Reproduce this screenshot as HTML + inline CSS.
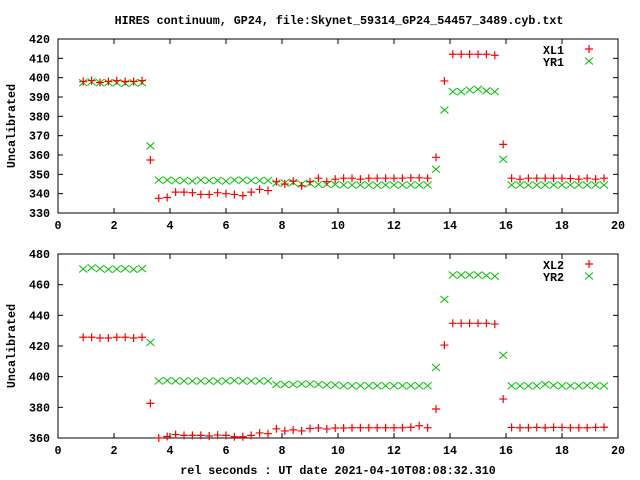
<!DOCTYPE html>
<html><head><meta charset="utf-8"><style>
html,body{margin:0;padding:0;background:#fff;}
svg{display:block;}
text{font-family:"Liberation Mono",monospace;font-weight:bold;font-size:11.7px;fill:#000;}
</style></head><body>
<svg id="chart" width="640" height="480" viewBox="0 0 640 480" xmlns="http://www.w3.org/2000/svg">
<text x="339" y="24" text-anchor="middle">HIRES continuum, GP24, file:Skynet_59314_GP24_54457_3489.cyb.txt</text>
<text x="338" y="474" text-anchor="middle">rel seconds : UT date 2021-04-10T08:08:32.310</text>
</svg>
<script>
const xTicks=[0,2,4,6,8,10,12,14,16,18,20];
const topYTicks=[330,340,350,360,370,380,390,400,410,420];
const botYTicks=[360,380,400,420,440,460,480];
const xStart=0.9, xStep=0.3;
const xl1=[398,398.5,397.5,398,398.5,398,398,398.5,357.4,
337.6,338,340.8,340.8,340.5,339.6,339.6,340.5,340,339.6,339,340.8,342.2,341.6,
346.2,345,346.5,344,346.2,348,346.2,347.5,348,348,347.5,348,348,348,348,348,348.2,348.2,348,
358.8,398.3,412.1,412.1,412.1,412.1,412.1,411.6,365.5,
348,347.5,348,348,348,348,348,347.8,347.5,348,347.5,348];
const yr1=[397.4,397.8,397.4,397.4,397.4,397,397.4,397.4,364.7,
347,347,346.8,346.8,346.5,347,346.8,346.8,346.5,347,347,346.8,346.8,346.8,
345.5,345.5,345.8,345,345.3,344.8,344.8,344.8,344.5,344.5,344.5,344.5,344.3,344.5,344.5,344.5,344.5,344.5,344.5,
352.6,383.3,392.8,392.8,393.6,394,393.2,392.8,357.8,
344.5,344.5,344.5,344.5,344.5,344.5,344.5,344.5,344.5,344.5,344.5,344.5];
const xl2=[425.7,425.7,425.2,425.2,425.7,425.7,425.2,425.7,382.6,
360,361,362.3,361.7,361.7,361.7,361.3,361.9,361.7,360.8,360.8,361.7,363.3,362.8,
366,364.6,365.3,364.6,366.2,366.5,365.9,366.5,366.5,366.7,366.7,366.7,366.7,366.7,366.7,366.7,367,368,366.7,
378.9,420.6,434.8,434.8,434.8,434.8,434.8,434.3,385.4,
366.9,366.7,366.7,366.9,366.7,366.9,366.9,366.7,366.7,366.7,366.9,367];
const yr2=[470.2,471,470.5,470,470.2,470.5,470,470.5,422.4,
397.2,397.5,397.2,397.2,397.2,397.2,397.2,397,397.2,397.5,397.2,397.2,397.2,397.2,
394.9,394.9,394.9,395.2,395.2,394.9,394.6,394.6,394.1,394.1,394.1,394.1,394.1,394.1,394.1,394.1,394.1,394.1,394.1,
406,450.4,466.3,466.3,466.3,466.3,466,465.5,414,
394,394,394,394,395,394.3,394,394,394,394.3,394,394];

const svg=document.getElementById('chart');
const NS='http://www.w3.org/2000/svg';
function mk(tag,attrs,parent){const e=document.createElementNS(NS,tag);for(const k in attrs)e.setAttribute(k,attrs[k]);(parent||svg).appendChild(e);return e;}

function panel(name,top,bottom,yTicks,s1,s2,n1,n2){
  const L=58,R=618,ymin=yTicks[0],ymax=yTicks[yTicks.length-1];
  const X=v=>L+(v-xTicks[0])/(xTicks[xTicks.length-1]-xTicks[0])*(R-L);
  const Y=v=>bottom-(v-ymin)/(ymax-ymin)*(bottom-top);
  const g=mk('g',{});
  
  
  const fr=mk('rect',{x:L,y:top,width:R-L,height:bottom-top,fill:'none',stroke:'#000','stroke-width':1},g);
  
  
  xTicks.forEach(t=>{
    const x=X(t);
    mk('line',{x1:x,x2:x,y1:bottom,y2:bottom-5,stroke:'#000'},g);
    mk('line',{x1:x,x2:x,y1:top,y2:top+5,stroke:'#000'},g);
    const tx=mk('text',{x:x,y:bottom+16,'text-anchor':'middle'},g);
    tx.textContent=t;
    
    
  });
  yTicks.forEach(t=>{
    const y=Y(t);
    mk('line',{x1:L,x2:L+5,y1:y,y2:y,stroke:'#000'},g);
    mk('line',{x1:R,x2:R-5,y1:y,y2:y,stroke:'#000'},g);
    const tx=mk('text',{x:L-8,y:y+4,'text-anchor':'end'},g);
    tx.textContent=t;
    
    
  });
  const yl=mk('text',{x:15,y:(top+bottom)/2,'text-anchor':'middle',transform:'rotate(-90 15 '+(top+bottom)/2+')'},g);
  yl.textContent='Uncalibrated';
  
  
  function plus(x,y,p){mk('path',{d:`M${x-4},${y}H${x+4}M${x},${y-4}V${y+4}`,stroke:'#ff0000','stroke-width':1.2,fill:'none'},p);}
  function cross(x,y,p){mk('path',{d:`M${x-4},${y-3.5}L${x+4},${y+3.5}M${x-4},${y+3.5}L${x+4},${y-3.5}`,stroke:'#00c000','stroke-width':1,fill:'none'},p);}
  const g2=mk('g',{},g);
  
  
  s2.forEach((v,i)=>cross(X(xStart+xStep*i),Y(v),g2));
  const g1=mk('g',{},g);
  
  
  s1.forEach((v,i)=>plus(X(xStart+xStep*i),Y(v),g1));
  const le1=mk('g',{},g);
  
  
  const t1=mk('text',{x:564,y:top+15,'text-anchor':'end'},le1);t1.textContent=n1;
  plus(589,top+10,le1);
  const le2=mk('g',{},g);
  
  
  const t2=mk('text',{x:564,y:top+27,'text-anchor':'end'},le2);t2.textContent=n2;
  cross(589,top+22,le2);
}
panel('top-panel',39,213,topYTicks,xl1,yr1,'XL1','YR1');
panel('bottom-panel',254,438,botYTicks,xl2,yr2,'XL2','YR2');
</script>
</body></html>
